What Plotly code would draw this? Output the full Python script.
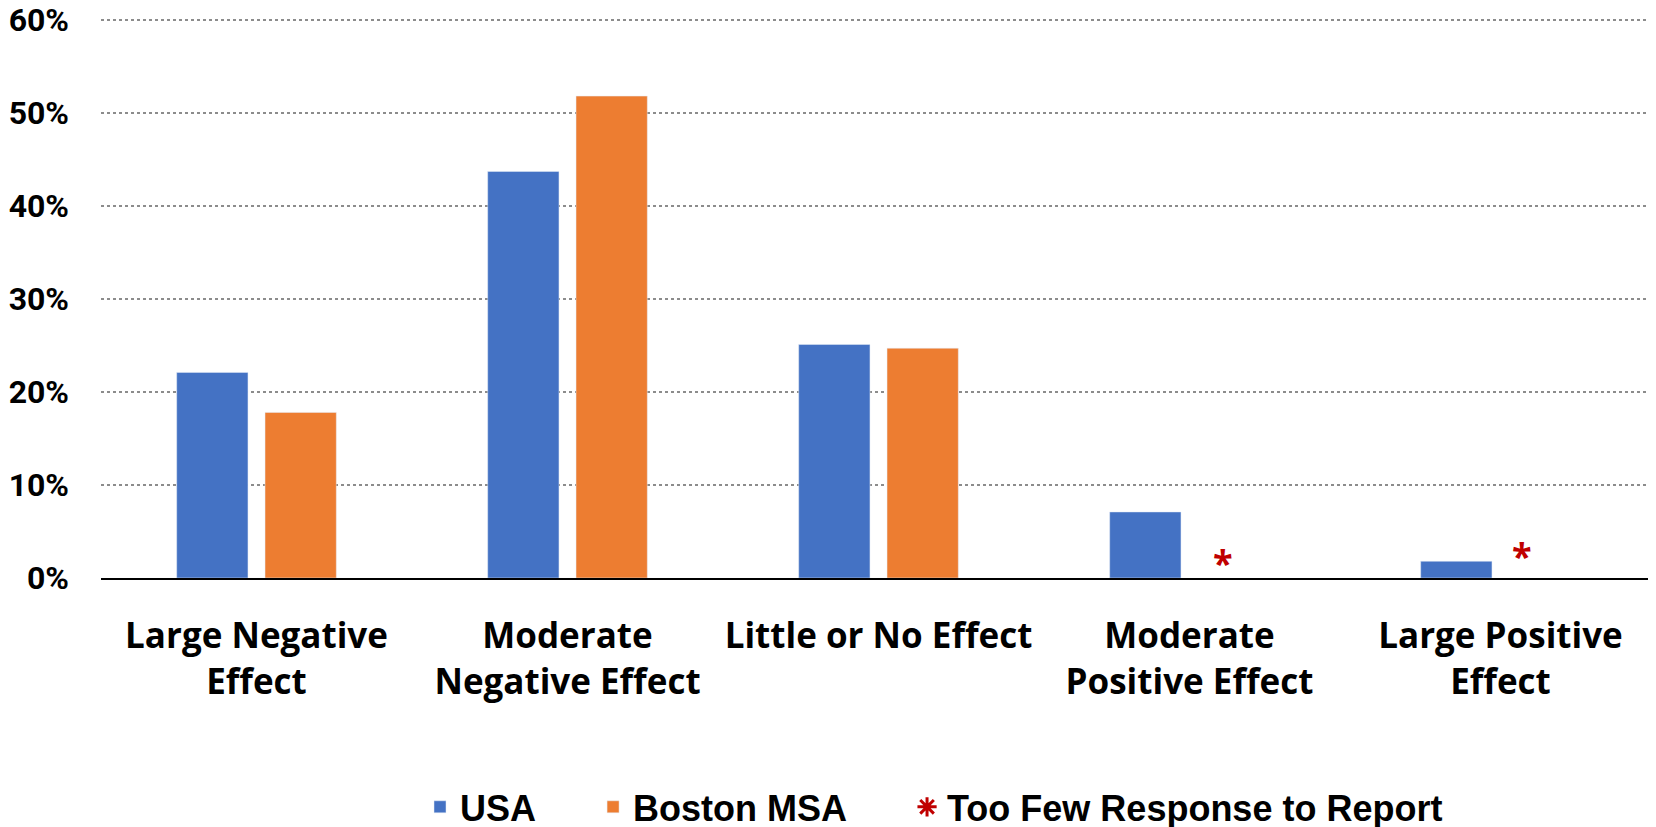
import plotly.graph_objects as go

categories = [
    "Large Negative<br>Effect",
    "Moderate<br>Negative Effect",
    "Little or No Effect",
    "Moderate<br>Positive Effect",
    "Large Positive<br>Effect",
]
usa = [22.1, 43.7, 25.1, 7.1, 1.8]
boston = [17.8, 51.8, 24.7, None, None]
# categories where Boston MSA had too few responses
too_few = ["Moderate<br>Positive Effect", "Large Positive<br>Effect"]
y_ticks = [0, 10, 20, 30, 40, 50, 60]
y_labels = [f"{v}%" for v in y_ticks]

BLUE = "#4472C4"
ORANGE = "#ED7D31"
RED = "#C00000"
LEGEND_FONT = dict(family="Liberation Sans", size=36, color="black", weight="bold")

fig = go.Figure()
fig.add_trace(go.Bar(x=categories, y=usa, name="USA", marker_color=BLUE, legend="legend"))
fig.add_trace(go.Bar(x=categories, y=boston, name="Boston MSA", marker_color=ORANGE, legend="legend2"))
fig.add_trace(go.Scatter(
    x=[None], y=[None], mode="markers", name="Too Few Response to Report", legend="legend3",
    marker=dict(symbol="asterisk-open", size=16, color=RED, line=dict(color=RED, width=3)),
))

# asterisks marking the missing Boston values
for cat, shift, yy in zip(too_few, [33, 21], [1.7, 2.45]):
    fig.add_annotation(
        x=cat, y=yy, text="<b>*</b>", showarrow=False, xshift=shift,
        font=dict(family="Open Sans", size=36, color=RED),
    )

legend_common = dict(orientation="h", xref="container", yref="container",
                     y=0.034, yanchor="middle", xanchor="left",
                     font=LEGEND_FONT, bgcolor="rgba(0,0,0,0)")

fig.update_layout(
    width=1656,
    height=827,
    margin=dict(l=93, r=8, t=9, b=257),
    plot_bgcolor="white",
    paper_bgcolor="white",
    barmode="group",
    bargap=0.432,
    bargroupgap=0.193,
    font=dict(family="Open Sans", color="black"),
    showlegend=True,
    legend=dict(x=0.2488, **legend_common),
    legend2=dict(x=0.3533, **legend_common),
    legend3=dict(x=0.5429, **legend_common),
)
fig.update_yaxes(
    range=[0, 60.3],
    tickmode="array",
    tickvals=y_ticks,
    ticktext=y_labels,
    showgrid=True,
    gridcolor="#8c8c8c",
    griddash="dot",
    gridwidth=1.5,
    zeroline=False,
    automargin=False,
    ticklabeloverflow="allow",
    tickfont=dict(family="Roboto", size=32, weight="bold"),
    ticklabelstandoff=31,
)
fig.update_xaxes(
    showline=True,
    linecolor="black",
    linewidth=2,
    automargin=False,
    tickfont=dict(family="Open Sans", size=35, weight="bold"),
    ticklabelstandoff=26,
)

fig.write_html("out.html")
